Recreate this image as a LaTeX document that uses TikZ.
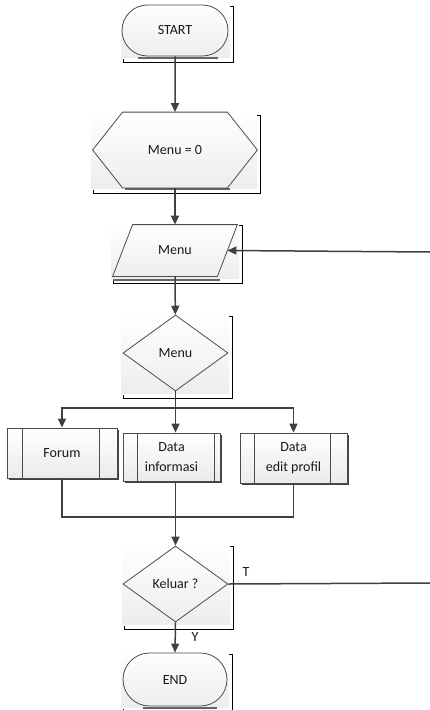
\documentclass[tikz,border=0pt]{standalone}
\usepackage{fontspec}
\setmainfont{Carlito}
\usetikzlibrary{shapes.geometric,shapes.misc,arrows.meta,shadows}

\begin{document}
\begin{tikzpicture}[x=1pt,y=-1pt,line width=0.8pt,
  every node/.style={font=\fontsize{14}{20}\selectfont,text=black!90},
  outline/.style={draw=black!70,line width=0.8pt},
  term/.style={outline,rounded rectangle,inner sep=0pt},
  cond/.style={outline,diamond,inner sep=0pt,minimum width=105,minimum height=76},
  hold/.style={rectangle,inner sep=0pt},
  proc/.style={outline,rectangle,inner sep=0pt,align=center,top color=white,bottom color=black!8,
    drop shadow={shadow xshift=1.6pt,shadow yshift=-1.6pt,fill=black!75,opacity=1}},
  flow/.style={draw=black!75,line width=1.5pt},
  arrow/.style={flow,-{Triangle[length=9pt,width=8pt]}},
  strip/.style={draw=black!60,line width=1.8pt}]

\useasboundingbox(0,0) rectangle (430,710);

% backgrounds and frames behind the symbols
\foreach \l/\t/\r/\b in {121/3/230/57, 91/112/257/188, 111/222/239/278,
  121/313/229/393, 122/543/230/624, 121/651/229/707}{
  \fill[top color=white,bottom color=black!7,draw=none](\l,\t) rectangle (\r,\b);
  \draw[black,line width=1pt](\r,\t+3)--(\r+3,\t+3)--(\r+3,\b+5)--(\l+2,\b+5)--(\l+2,\b+2);
}
\draw[strip](138,58)--(218,58);
\draw[strip](125,189)--(230,189);
\draw[strip](113,280)--(220,280);
\draw[strip](143,708)--(217,708);

\node[term,minimum width=106,minimum height=51](start) at (175,30.5){START};

\node[hold,minimum width=164,minimum height=75](init) at (175,150){Menu = 0};
\draw[outline](init.west)--([xshift=30]init.north west)--([xshift=-30]init.north east)
  --(init.east)--([xshift=-30]init.south east)--([xshift=30]init.south west)--cycle;

\node[hold,minimum width=124,minimum height=51](input) at (175,250.5){Menu};
\draw[outline]([xshift=20]input.north west)--(input.north east)
  --([xshift=-20]input.south east)--(input.south west)--cycle;

\node[cond](choice) at (175.5,353){Menu};

\node[proc,minimum width=110,minimum height=50](forum) at (62,453){Forum};
\node[proc,minimum width=97,minimum height=48](info) at (171.5,457){Data\\informasi};
\node[proc,minimum width=107,minimum height=50](profil) at (293.5,458){Data\\edit profil};
\foreach \n/\a/\b in {forum/16/18, info/15/6, profil/15/17}
  \draw[outline,line width=0.6pt]([xshift=\a]\n.north west)--([xshift=\a]\n.south west)
    ([xshift=-\b]\n.north east)--([xshift=-\b]\n.south east);

\node[cond](quit) at (175.5,584){Keluar ?};
\node[term,minimum width=104,minimum height=53](end) at (175,679.5){END};

\coordinate(split) at (175.5,408);
\coordinate(merge) at (175.5,517);
\coordinate(back) at (430,252);
\coordinate(exit) at (430,583);

\draw[arrow](start)--(init);
\draw[arrow](init)--(input);
\draw[arrow](input)--(choice);
\draw[arrow](choice.south)--(choice.south|-info.north);
\draw[arrow](split)-|(forum.north);
\draw[arrow](split)-|(profil.north);
\draw[flow](forum.south)|-(merge);
\draw[flow](profil.south)|-(merge);
\draw[arrow](quit.north|-info.south)--(quit.north);
\draw[arrow](quit.south)--(end.north);
\draw[flow](quit.east)--(exit);
\draw[arrow](back)--([xshift=-10]input.east);

\node(tlabel) at (246,572){T};
\node(ylabel) at (195,637){Y};

\end{tikzpicture}
\end{document}
